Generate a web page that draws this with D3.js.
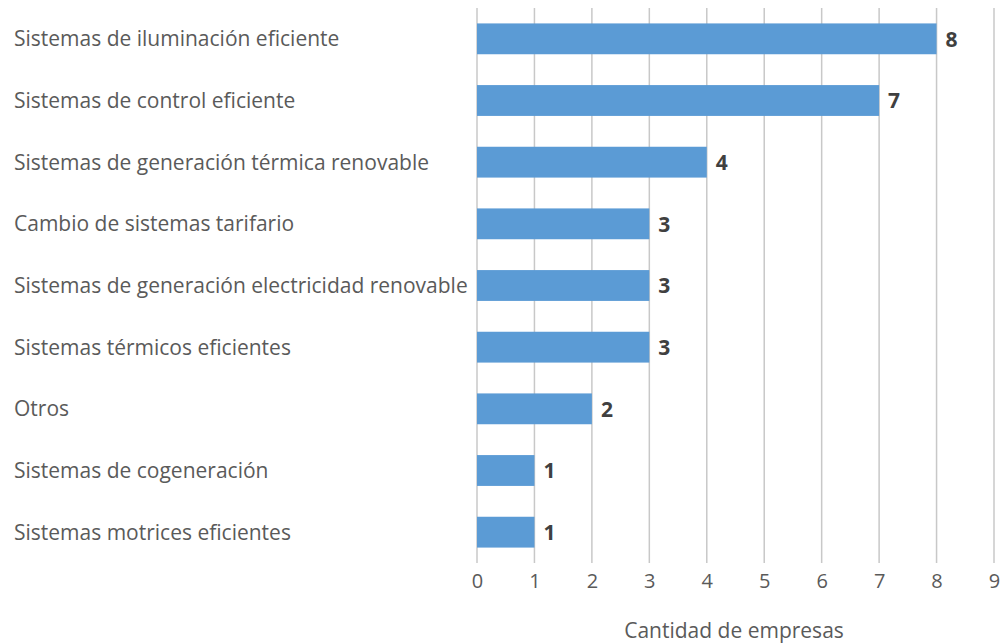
<!DOCTYPE html>
<html>
<head>
<meta charset="utf-8">
<script src="https://cdn.jsdelivr.net/npm/d3@7"></script>
<style>
  body { margin: 0; background: #fff; }
  text { font-family: "Open Sans", "Noto Sans", sans-serif; }
</style>
</head>
<body>
<svg width="1002" height="643"></svg>
<script>
const categories = [
  'Sistemas de iluminación eficiente',
  'Sistemas de control eficiente',
  'Sistemas de generación térmica renovable',
  'Cambio de sistemas tarifario',
  'Sistemas de generación electricidad renovable',
  'Sistemas térmicos eficientes',
  'Otros',
  'Sistemas de cogeneración',
  'Sistemas motrices eficientes'
];
const values = [8, 7, 4, 3, 3, 3, 2, 1, 1];
const xTicks = [0, 1, 2, 3, 4, 5, 6, 7, 8, 9];
const axisTitle = 'Cantidad de empresas';

const svg = d3.select('svg');
const plotLeft = 477, plotRight = 994, plotTop = 8, plotBottom = 563;

const x = d3.scaleLinear().domain([0, 9]).range([plotLeft, plotRight]);
const y = d3.scaleBand().domain(categories).range([plotTop, plotBottom])
  .paddingInner(0.5).paddingOuter(0.25);

// gridlines
svg.append('g').selectAll('line')
  .data(xTicks)
  .join('line')
  .attr('x1', d => x(d)).attr('x2', d => x(d))
  .attr('y1', plotTop).attr('y2', plotBottom)
  .attr('stroke', '#c8c8c8')
  .attr('stroke-width', 1.5);

// bars
svg.append('g').selectAll('rect')
  .data(values)
  .join('rect')
  .attr('x', x(0))
  .attr('y', (d, i) => y(categories[i]))
  .attr('width', d => x(d) - x(0))
  .attr('height', y.bandwidth())
  .attr('fill', '#5B9BD5');

// value labels
svg.append('g').selectAll('text')
  .data(values)
  .join('text')
  .attr('x', d => x(d) + 9)
  .attr('y', (d, i) => y(categories[i]) + y.bandwidth() / 2)
  .attr('dy', '0.38em')
  .attr('font-size', 21)
  .attr('font-weight', 'bold')
  .attr('fill', '#404040')
  .text(d => d);

// category labels
svg.append('g').selectAll('text')
  .data(categories)
  .join('text')
  .attr('x', 14)
  .attr('y', d => y(d) + y.bandwidth() / 2)
  .attr('dy', '0.36em')
  .attr('font-size', 21)
  .attr('fill', '#5a5a5a')
  .text(d => d);

// x axis
const xAxis = svg.append('g')
  .attr('transform', `translate(0,${plotBottom})`)
  .call(d3.axisBottom(x).tickValues(xTicks).tickSize(0).tickPadding(11));
xAxis.select('.domain').remove();
xAxis.selectAll('text')
  .attr('font-size', 20)
  .attr('fill', '#5a5a5a')
  .style('font-family', '"Open Sans", "Noto Sans", sans-serif');

svg.append('text')
  .attr('x', 734)
  .attr('y', 638)
  .attr('text-anchor', 'middle')
  .attr('font-size', 21)
  .attr('fill', '#5a5a5a')
  .text(axisTitle);
</script>
</body>
</html>
